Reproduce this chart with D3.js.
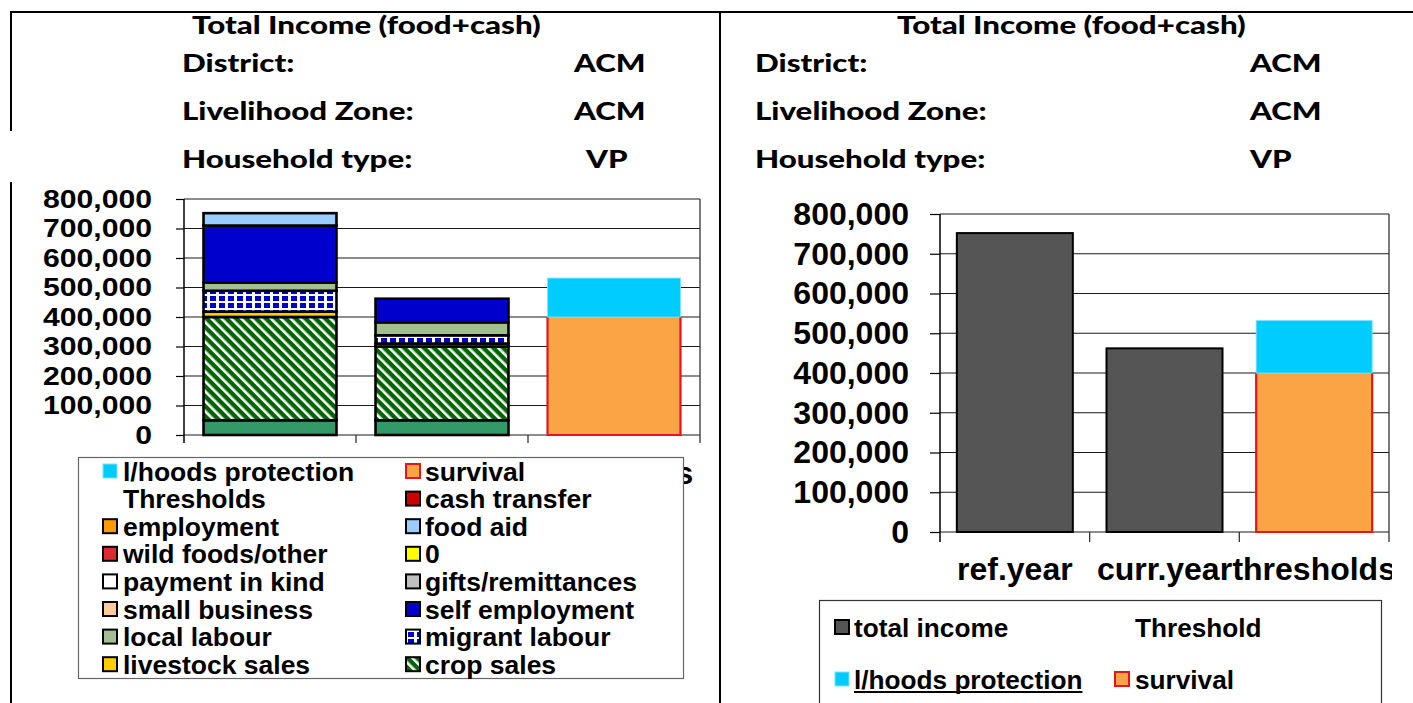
<!DOCTYPE html>
<html><head><meta charset="utf-8">
<script src="https://cdn.jsdelivr.net/npm/d3@7"></script>
<style>body{margin:0;background:#fff} svg{display:block}</style>
</head><body>
<svg id="c" width="1413" height="703"></svg>
<script>
// ---------- DATA ----------
const categories = ["ref.year", "curr.year", "thresholds"];
const yTicks = [0, 100000, 200000, 300000, 400000, 500000, 600000, 700000, 800000];

// left chart: income components, stacked bottom -> top
const ownProduction    = [50000, 50000, 0];
const cropSales        = [350000, 250000, 0];
const livestockSales   = [18000, 10000, 0];
const migrantLabour    = [71000, 28000, 0];
const localLabour      = [28000, 44000, 0];
const smallBusiness    = [0, 0, 0];
const paymentInKind    = [0, 0, 0];
const wildFoodsOther   = [0, 0, 0];
const giftsRemittances = [0, 0, 0];
const zeroSeries       = [0, 0, 0];
const employment       = [0, 0, 0];
const selfEmployment   = [193000, 80000, 0];
const foodAid          = [42000, 0, 0];
const cashTransfer     = [0, 0, 0];
const survival         = [0, 0, 400000];
const lhoodsProtection = [0, 0, 132000];

// right chart
const totalIncome = [752000, 462000, 0];

// texts
const headerTitle = "Total Income (food+cash)";
const headerLabels = ["District:", "Livelihood Zone:", "Household type:"];
const headerValues = ["ACM", "ACM", "VP"];
const leftLegendCol1 = ["l/hoods protection", "Thresholds", "employment", "wild foods/other", "payment in kind", "small business", "local labour", "livestock sales"];
const leftLegendCol2 = ["survival", "cash transfer", "food aid", "0", "gifts/remittances", "self employment", "migrant labour", "crop sales"];
const rightLegendRow1 = ["total income", "Threshold"];
const rightLegendRow2 = ["l/hoods protection", "survival"];

const leftSeries = [
  ["own production", ownProduction], ["crop sales", cropSales], ["livestock sales", livestockSales],
  ["migrant labour", migrantLabour], ["local labour", localLabour], ["small business", smallBusiness],
  ["payment in kind", paymentInKind], ["wild foods/other", wildFoodsOther], ["gifts/remittances", giftsRemittances],
  ["0", zeroSeries], ["employment", employment], ["self employment", selfEmployment], ["food aid", foodAid],
  ["cash transfer", cashTransfer], ["survival", survival], ["l/hoods protection", lhoodsProtection]
];
const rightSeries = [["total income", totalIncome], ["survival", survival], ["l/hoods protection", lhoodsProtection]];

// ---------- STYLES ----------
const fills = {
  "own production": "#339966", "crop sales": "url(#pCrop)", "livestock sales": "#ffcc00",
  "migrant labour": "url(#pMigrant)", "local labour": "#a3be90", "small business": "#ffcc99",
  "payment in kind": "#ffffff", "wild foods/other": "#dd2a33", "gifts/remittances": "#c0c0c0",
  "0": "#ffff00", "employment": "#ff9900", "self employment": "#0000cc", "food aid": "#99ccff",
  "cash transfer": "#cc0000", "survival": "#fba446", "l/hoods protection": "#00ccff", "total income": "#555555"
};
const strokeOf = n => n === "survival" ? "#e3161c" : (n === "l/hoods protection" ? "none" : "#000");
const chartFont = "'Liberation Sans', Arial, sans-serif";
const headFont = "Lato, 'Open Sans', sans-serif";

const svg = d3.select("#c");
const defs = svg.append("defs");
// crop sales: dark green with white "\" stripes
const pc = defs.append("pattern").attr("id", "pCrop").attr("patternUnits", "userSpaceOnUse")
  .attr("width", 7).attr("height", 7).attr("patternTransform", "rotate(-45)");
pc.append("rect").attr("width", 7).attr("height", 7).attr("fill", "#006400");
pc.append("rect").attr("width", 2.6).attr("height", 7).attr("fill", "#fff");
// migrant labour: blue squares with white grid
const pm = defs.append("pattern").attr("id", "pMigrant").attr("patternUnits", "userSpaceOnUse")
  .attr("width", 9).attr("height", 7);
pm.append("rect").attr("width", 9).attr("height", 7).attr("fill", "#fff");
pm.append("rect").attr("x", 3).attr("y", 2).attr("width", 6).attr("height", 5).attr("fill", "#0000cc");

// ---------- FRAME ----------
const frame = svg.append("g").attr("stroke", "#000").attr("stroke-width", 2);
frame.append("line").attr("x1", 10).attr("x2", 1413).attr("y1", 12).attr("y2", 12);
frame.append("line").attr("x1", 11).attr("x2", 11).attr("y1", 12).attr("y2", 131);
frame.append("line").attr("x1", 11).attr("x2", 11).attr("y1", 182).attr("y2", 703);
frame.append("line").attr("x1", 720).attr("x2", 720).attr("y1", 12).attr("y2", 703);

// ---------- HEADERS ----------
const headFs = 24;
function htext(g, x, y, s, sx) {
  return g.append("text").attr("transform", `translate(${x},${y}) scale(${sx},1)`).text(s)
    .attr("font-family", headFont).attr("font-weight", 900).attr("font-size", headFs);
}
function header(g, titleX, labelX, valueXs) {
  const t = htext(g, titleX, 34, headerTitle, 1);
  const sx = 349 / t.node().getComputedTextLength();
  t.attr("transform", `translate(${titleX},34) scale(${sx},1)`);
  const rowsY = [72, 120, 168];
  headerLabels.forEach((l, i) => {
    htext(g, labelX, rowsY[i], l, sx);
    htext(g, valueXs[i], rowsY[i], headerValues[i], sx);
  });
}
header(svg.append("g"), 192, 182, [574, 574, 586]);
header(svg.append("g"), 897, 755, [1250, 1250, 1250]);

// ---------- CHART BUILDER ----------
function chart(opt) {
  const g = svg.append("g");
  const x = d3.scaleBand().domain(categories).range([opt.x0, opt.x1])
    .paddingInner(opt.pin).paddingOuter(opt.pin / 2);
  const y = d3.scaleLinear().domain([0, 800000]).range([opt.yb, opt.yt]);
  // gridlines
  g.append("g").selectAll("line").data(yTicks).join("line")
    .attr("x1", opt.x0).attr("x2", opt.x1).attr("y1", d => y(d)).attr("y2", d => y(d))
    .attr("stroke", "#1a1a1a").attr("stroke-width", 1.2);
  // x ticks at band boundaries
  const bounds = d3.range(categories.length + 1).map(i => opt.x0 + i * x.step());
  g.append("g").selectAll("line").data(bounds).join("line")
    .attr("x1", d => d).attr("x2", d => d).attr("y2", y(0) + opt.tick)
    .attr("stroke", d => d === bounds[0] ? "none" : "#333").attr("stroke-width", 1.3)
    .attr("y1", (d, i) => i === bounds.length - 1 ? y(800000) : y(0));
  // x labels (clipped to the visible area)
  const clipId = "clip" + opt.x0;
  defs.append("clipPath").attr("id", clipId).append("rect")
    .attr("x", opt.clipX0).attr("y", 0).attr("width", opt.clipX1 - opt.clipX0).attr("height", 703);
  const xl = g.append("g").attr("clip-path", `url(#${clipId})`);
  categories.forEach(c => {
    const t = xl.append("text").attr("x", x(c) + x.bandwidth() / 2).attr("y", opt.xLabelY)
      .attr("text-anchor", "middle").attr("font-family", chartFont).attr("font-weight", "bold")
      .attr("font-size", opt.xfs).text(c);
    const bb = t.node().getBBox();
    if (bb.x + bb.width <= opt.clipX0 || bb.x >= opt.clipX1) t.remove(); // fully hidden
  });
  // stacked bars
  const rows = categories.map((c, i) => {
    const r = { cat: c };
    opt.series.forEach(([n, v]) => r[n] = v[i]);
    return r;
  });
  const stacked = d3.stack().keys(opt.series.map(s => s[0]))(rows);
  const bars = g.append("g");
  stacked.forEach(layer => {
    const n = layer.key;
    layer.forEach(d => {
      if (d[1] - d[0] <= 0) return;
      const bx = x(d.data.cat), bw = x.bandwidth();
      const yt = y(d[1]), yb = y(d[0]);
      bars.append("rect").attr("x", bx).attr("y", yt).attr("width", bw).attr("height", yb - yt)
        .attr("fill", fills[n])
        .attr("stroke", n === "survival" || n === "l/hoods protection" ? "none" : "#000")
        .attr("stroke-width", opt.barStroke);
      if (n === "survival") {
        bars.append("path").attr("d", `M${bx},${yt}V${yb}H${bx + bw}V${yt}`)
          .attr("fill", "none").attr("stroke", "#e3161c").attr("stroke-width", 2.2);
      }
      if (n === "l/hoods protection") {
        bars.append("rect").attr("x", bx).attr("y", yt).attr("width", bw).attr("height", yb - yt)
          .attr("fill", "none").attr("stroke", "#7fe3ff").attr("stroke-width", 0.8);
      }
    });
  });
  // y axis
  const ax = g.append("g").attr("transform", `translate(${opt.x0},0)`)
    .call(d3.axisLeft(y).tickValues(yTicks).tickSize(opt.tick).tickSizeOuter(0)
      .tickPadding(opt.tpad).tickFormat(d3.format(",")));
  ax.select(".domain").attr("stroke", "#000").attr("stroke-width", 1.5)
    .attr("d", `M0,${y(800000)}V${y(0) + opt.tick}`);
  ax.selectAll(".tick line").attr("stroke", "#000").attr("stroke-width", 1.2);
  ax.selectAll(".tick text").attr("font-family", chartFont).attr("font-weight", "bold")
    .attr("font-size", opt.yfs).attr("fill", "#000")
    .attr("x", -(opt.tick + opt.tpad) / opt.ysx).attr("transform", `scale(${opt.ysx},1)`);
  return { x, y };
}

// left chart: its x labels sit behind the legend box; only the part right of it shows
chart({ x0: 184, x1: 700, yb: 435, yt: 199, pin: 0.227, tick: 8, tpad: 24, yfs: 26, ysx: 1.16,
  xfs: 31, xLabelY: 484, clipX0: 684, clipX1: 720, series: leftSeries, barStroke: 2.6 });
chart({ x0: 940, x1: 1389, yb: 532, yt: 214, pin: 0.225, tick: 10, tpad: 21, yfs: 32, ysx: 1,
  xfs: 32, xLabelY: 580, clipX0: 900, clipX1: 1392, series: rightSeries, barStroke: 2 });

// ---------- LEFT LEGEND ----------
const lg = svg.append("g");
lg.append("rect").attr("x", 78.5).attr("y", 457.5).attr("width", 605).attr("height", 221)
  .attr("fill", "#fff").attr("stroke", "#666").attr("stroke-width", 1.2);
const rowY = d3.range(8).map(i => 471 + i * 27.6);
function legendItem(g, name, sx, cy, tx, fs) {
  if (name !== "Thresholds" && name !== "Threshold") {
    const sw = g.append("rect").attr("x", sx).attr("y", cy - 7).attr("width", 14).attr("height", 14)
      .attr("fill", fills[name]);
    if (name === "l/hoods protection") sw.attr("stroke", "#7fe3ff").attr("stroke-width", 1);
    else sw.attr("stroke", strokeOf(name)).attr("stroke-width", 2);
  }
  return g.append("text").attr("x", tx).attr("y", cy + 9.5).text(name)
    .attr("font-family", chartFont).attr("font-weight", "bold").attr("font-size", fs);
}
leftLegendCol1.forEach((n, i) => legendItem(lg, n, 103, rowY[i], 123, 26.5));
leftLegendCol2.forEach((n, i) => legendItem(lg, n, 406, rowY[i], 425, 26.5));

// ---------- RIGHT LEGEND ----------
const rg = svg.append("g");
rg.append("rect").attr("x", 819.5).attr("y", 600.5).attr("width", 562).attr("height", 120)
  .attr("fill", "#fff").attr("stroke", "#333").attr("stroke-width", 1.2);
legendItem(rg, rightLegendRow1[0], 835, 627, 854, 26.2);
legendItem(rg, rightLegendRow1[1], 0, 627, 1135, 26.2);
const ul = legendItem(rg, rightLegendRow2[0], 835, 679, 854, 26.2);
const ulw = ul.node().getComputedTextLength();
rg.append("line").attr("x1", 854).attr("x2", 854 + ulw).attr("y1", 692).attr("y2", 692)
  .attr("stroke", "#000").attr("stroke-width", 2);
legendItem(rg, rightLegendRow2[1], 1115, 679, 1135, 26.2);
</script>
</body></html>
